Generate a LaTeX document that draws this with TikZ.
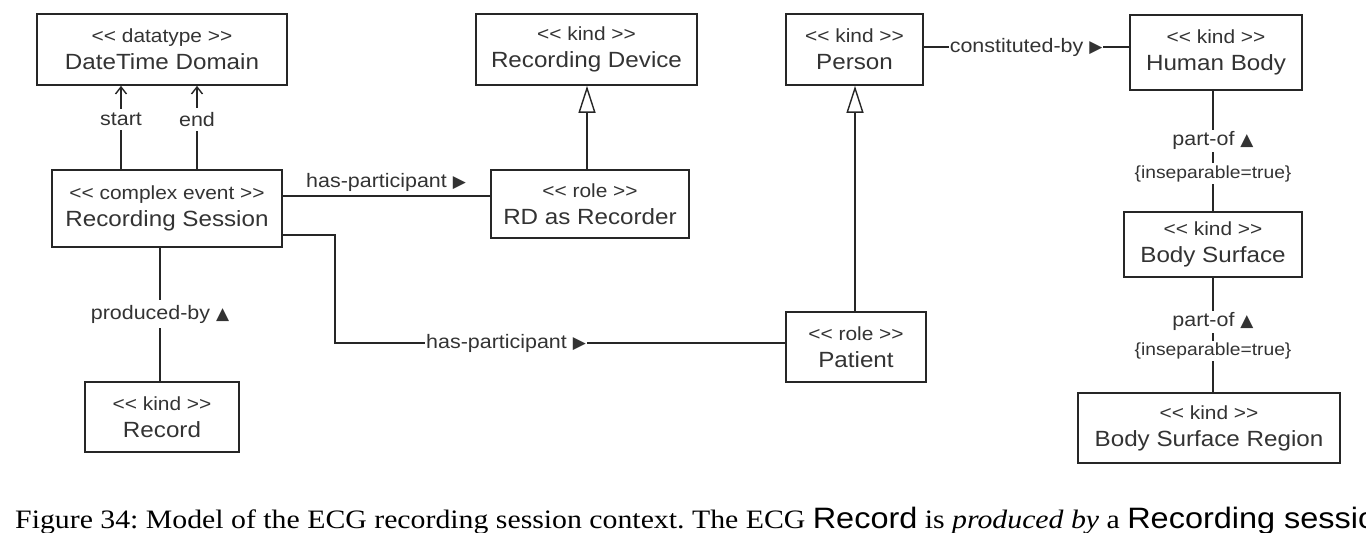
\documentclass[tikz,border=0pt]{standalone}
\usepackage{fontspec}
\setmainfont{Liberation Serif}[FakeStretch=1.12]
\setsansfont{Liberation Sans}[FakeStretch=1.1]
\newfontfamily\symfont{DejaVu Sans}
\usetikzlibrary{arrows.meta}

\newcommand\ster[1]{{\fontsize{19}{19}\selectfont <\kern0pt< #1 >\kern0pt>}}
\newcommand\rtri{{\symfont\fontsize{17}{17}\selectfont ▶}}
\newcommand\utri{{\symfont\fontsize{17}{17}\selectfont ▲}}
\newcommand\capsf[1]{{\sffamily\fontsize{29.5}{30}\selectfont #1}}

\begin{document}
\begin{tikzpicture}[x=1pt, y=-1pt,
  box/.style={draw=black!85, line width=1.7pt, align=center, inner sep=0pt, text=black!80, font=\sffamily\fontsize{22}{27}\selectfont},
  conn/.style={draw=black!85, line width=1.4pt},
  lbl/.style={fill=white, inner sep=2pt, text=black!80, font=\sffamily\fontsize{19.5}{20}\selectfont},
  gen/.style={conn, -{Triangle[open, width=17pt, length=27pt]}},
  nav/.style={conn, -{Straight Barb[length=7pt, width=11pt]}}
]
\clip (0,0) rectangle (1366,533);

%classes
    \foreach \nm/\cx/\cy/\w/\h/\kind/\txt in {
        dtd/162/49.5/250/71/datatype/DateTime Domain,
        rdev/586.5/49.5/221/71/kind/Recording Device,
        person/854.5/49.5/137/71/kind/Person,
        hbody/1216/52.5/172/75/kind/Human Body,
        rsess/167/208.5/230/77/complex event/Recording Session,
        rdrec/590/204/198/68/role/RD as Recorder,
        bsurf/1213/244.5/178/65/kind/Body Surface,
        patient/856/347/140/70/role/Patient,
        record/162/417/154/70/kind/Record,
        bsreg/1209/428/262/70/kind/Body Surface Region}{
        \node[box, minimum width=\w, minimum height=\h] (\nm) at (\cx,\cy) {\ster{\kind}\\\txt};
    }

%start / end
    \coordinate (st) at (121,170);
    \coordinate (en) at (197,170);
    \draw[nav] (st) -- node[lbl, pos=.6, inner sep=4pt] {start} (st |- dtd.south);
    \draw[nav] (en) -- node[lbl, pos=.6, inner sep=4pt] {end} (en |- dtd.south);

%generalizations
    \coordinate (g1) at (587,170);
    \coordinate (g2) at (855,312);
    \draw[gen] (g1) -- (g1 |- rdev.south);
    \draw[gen] (g2) -- (g2 |- person.south);

%has-participant
    \coordinate (hp1) at (282,196);
    \draw[conn] (hp1) -- node[above=2pt, lbl, fill=none] {has-participant \rtri} (hp1 -| rdrec.west);

    \coordinate (hp2) at (282,235);
    \coordinate (bend) at (335,343);
    \draw[conn] (hp2) -| (bend) -- node[lbl, pos=.38, inner sep=1pt] {has-participant \rtri} (bend -| patient.west);

%produced-by
    \coordinate (pb) at (160,247);
    \draw[conn] (pb) -- node[lbl, inner sep=5pt] {produced-by \utri} (pb |- record.north);

%constituted-by
    \coordinate (cb) at (923,47);
    \draw[conn] (cb) -- node[lbl, inner sep=1pt] {constituted-by \rtri} (cb -| hbody.west);

%part-of
    \coordinate (po1) at (1213,90);
    \draw[conn] (po1) -- node[lbl, pos=.42] {part-of \utri}
        node[lbl, pos=.69, font=\sffamily\fontsize{17.5}{18}\selectfont] {\{inseparable=true\}} (po1 |- bsurf.north);
    \coordinate (po2) at (1213,277);
    \draw[conn] (po2) -- node[lbl, pos=.39] {part-of \utri}
        node[lbl, pos=.64, font=\sffamily\fontsize{17.5}{18}\selectfont] {\{inseparable=true\}} (po2 |- bsreg.north);

%caption
    \node[anchor=base west, inner sep=0pt, font=\frenchspacing\fontsize{26.6}{28}\selectfont] (cap) at (15,528)
        {Figure 34: Model of the ECG recording session context. The ECG \capsf{Record} is \textit{produced by} a \capsf{Recording session}};

\end{tikzpicture}
\end{document}
